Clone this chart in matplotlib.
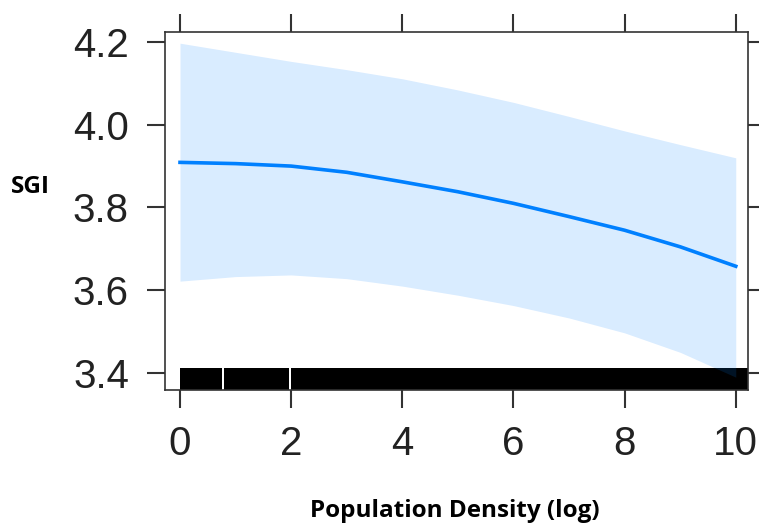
import matplotlib.pyplot as plt
import matplotlib.transforms as mtransforms

# effect of population density (log) on SGI ==========
density = [0, 1, 2, 3, 4, 5, 6, 7, 8, 9, 10]
sgi_fit = [3.909, 3.906, 3.900, 3.885, 3.862, 3.838, 3.810, 3.778, 3.745, 3.705, 3.658]
sgi_upper = [4.197, 4.175, 4.153, 4.133, 4.111, 4.084, 4.054, 4.020, 3.985, 3.952, 3.920]
sgi_lower = [3.622, 3.633, 3.637, 3.628, 3.610, 3.588, 3.563, 3.533, 3.497, 3.450, 3.390]

# rug of observed densities: (start, width) of the dense runs
rug_spans = [(0.0, 0.76), (0.785, 1.185), (1.995, 8.3)]

x_ticks = [0, 2, 4, 6, 8, 10]
y_ticks = [3.4, 3.6, 3.8, 4.0, 4.2]

line_col = '#0080ff'
spine_col = '#333333'
tick_font = {'family': 'Liberation Sans', 'size': 29, 'color': '#222222'}
lab_font = {'family': 'Open Sans', 'weight': 'bold', 'size': 17.5, 'color': 'black'}

fig = plt.figure(figsize=(7.59, 5.24), dpi=100)
ax = fig.add_axes([165 / 759, 134 / 524, 583 / 759, 358 / 524])

# rug along the bottom, height in axes units like lattice
trans = mtransforms.blended_transform_factory(ax.transData, ax.transAxes)
ax.broken_barh(rug_spans, (0, 0.062), facecolors='black', edgecolor='none',
               transform=trans, zorder=1)

ax.fill_between(density, sgi_lower, sgi_upper, color=line_col, alpha=0.15,
                linewidth=0, zorder=2)
ax.plot(density, sgi_fit, color=line_col, linewidth=2.6, zorder=3)

ax.set_xlim(-0.27, 10.22)
ax.set_ylim(3.359, 4.224)
ax.set_xticks(x_ticks)
ax.set_yticks(y_ticks)
ax.set_xticklabels([str(t) for t in x_ticks], fontdict=tick_font)
ax.set_yticklabels(['%.1f' % t for t in y_ticks], fontdict=tick_font)
ax.tick_params(axis='both', direction='out', length=13, width=1.5,
               color=spine_col, top=True, right=True,
               labeltop=False, labelright=False)
ax.tick_params(axis='x', pad=12)
ax.tick_params(axis='y', pad=13)
for s in ax.spines.values():
    s.set_color(spine_col)
    s.set_linewidth(1.2)

fig.text(30 / 759, 1 - 187 / 524, 'SGI', ha='center', va='center', fontdict=lab_font)
fig.text(455 / 759, 1 - 511 / 524, 'Population Density (log)', ha='center', va='center',
         fontdict=lab_font)

fig.savefig('out.png', dpi=100)
